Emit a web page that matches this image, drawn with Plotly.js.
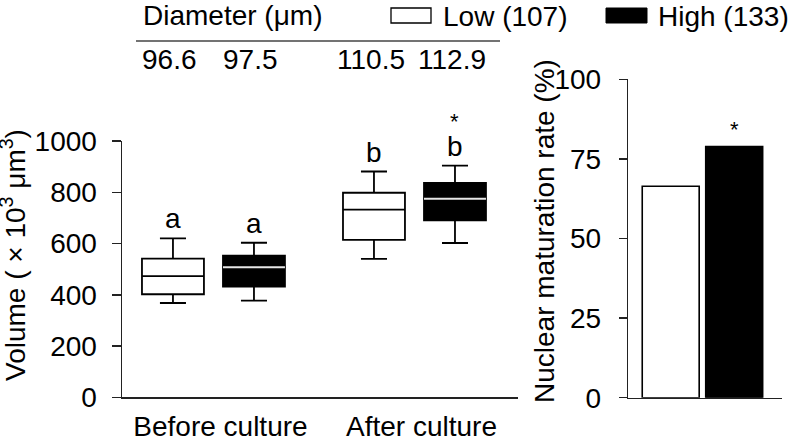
<!DOCTYPE html>
<html><head><meta charset="utf-8">
<script src="https://cdn.plot.ly/plotly-3.0.1.min.js"></script>
<style>html,body{margin:0;padding:0;background:#fff}#chart{width:793px;height:442px}</style>
</head><body><div id="chart"></div>
<script>
// ---- data ----
const stages = ['Before culture', 'After culture'];
const groupNames = ['Low', 'High'];
const groupCounts = [107, 133];
const diameterLow = [96.6, 110.5];
const diameterHigh = [97.5, 112.9];
const lowQ1 = [402, 614];
const lowMedian = [473, 732];
const lowQ3 = [541, 798];
const lowMin = [368, 540];
const lowMax = [620, 881];
const highQ1 = [432, 690];
const highMedian = [507, 775];
const highQ3 = [553, 837];
const highMin = [377, 602];
const highMax = [603, 904];
const letterLow = ['a', 'b'];
const letterHigh = ['a', 'b'];
const starHigh = ['', '*'];
const maturation = [66.4, 78.9];
const maturationStar = ['', '*'];

// ---- styles ----
const FONT = 'Liberation Sans, Arial, sans-serif';
const FS = 28;
const W = 793, H = 442;
const boxgap = 0.194, boxgroupgap = 0.235;
const off = (1 - boxgap) / 4;
const px = v => v / W, py = v => 1 - v / H;

const traces = [
  {type: 'box', name: groupNames[0], x: stages, q1: lowQ1, median: lowMedian, q3: lowQ3,
   lowerfence: lowMin, upperfence: lowMax, offsetgroup: 'low', boxpoints: false,
   fillcolor: 'white', line: {color: 'black', width: 1.8}, whiskerwidth: 0.42,
   showlegend: false, xaxis: 'x', yaxis: 'y', hoverinfo: 'skip'},
  {type: 'box', name: groupNames[1], x: stages, q1: highQ1, median: highMedian, q3: highQ3,
   lowerfence: highMin, upperfence: highMax, offsetgroup: 'high', boxpoints: false,
   fillcolor: 'black', line: {color: 'black', width: 1.8}, whiskerwidth: 0.42,
   showlegend: false, xaxis: 'x', yaxis: 'y', hoverinfo: 'skip'},
  // white median line for the black boxes
  {type: 'box', name: groupNames[1] + ' median', x: stages, q1: highMedian, median: highMedian, q3: highMedian,
   lowerfence: highMedian, upperfence: highMedian, offsetgroup: 'high', boxpoints: false,
   fillcolor: 'rgba(0,0,0,0)', line: {color: '#e6e6e6', width: 2}, whiskerwidth: 0.42,
   showlegend: false, xaxis: 'x', yaxis: 'y', hoverinfo: 'skip'},
  {type: 'bar', x: groupNames, y: maturation, xaxis: 'x2', yaxis: 'y2',
   marker: {color: ['white', 'black'], line: {color: 'black', width: 1.6}},
   showlegend: false, hoverinfo: 'skip'}
];

const annotations = [];
stages.forEach((s, i) => {
  annotations.push({xref: 'x', yref: 'y', x: i - off, y: lowMax[i], text: letterLow[i], showarrow: false,
    yanchor: 'bottom', yshift: 2, font: {family: FONT, size: FS, color: 'black'}});
  annotations.push({xref: 'x', yref: 'y', x: i + off, y: highMax[i], text: letterHigh[i], showarrow: false,
    yanchor: 'bottom', yshift: 2, font: {family: FONT, size: FS, color: 'black'}});
  if (starHigh[i]) annotations.push({xref: 'x', yref: 'y', x: i + off, y: highMax[i], text: starHigh[i], showarrow: false,
    yanchor: 'bottom', yshift: 30, font: {family: FONT, size: 22, color: 'black'}});
  annotations.push({xref: 'x', yref: 'paper', x: i - off, y: py(60), text: diameterLow[i].toFixed(1), showarrow: false,
    yanchor: 'middle', xshift: -3, font: {family: FONT, size: FS, color: 'black'}});
  annotations.push({xref: 'x', yref: 'paper', x: i + off, y: py(60), text: diameterHigh[i].toFixed(1), showarrow: false,
    yanchor: 'middle', xshift: -3, font: {family: FONT, size: FS, color: 'black'}});
});
groupNames.forEach((g, i) => {
  if (maturationStar[i]) annotations.push({xref: 'x2', yref: 'y2', x: g, y: maturation[i], text: maturationStar[i],
    showarrow: false, yanchor: 'bottom', yshift: 2, font: {family: FONT, size: 22, color: 'black'}});
});
// header + legend
annotations.push({xref: 'paper', yref: 'paper', x: px(141), y: py(16), xanchor: 'left', yanchor: 'middle',
  text: 'Diameter (μm)', showarrow: false, font: {family: FONT, size: FS, color: 'black'}});
annotations.push({xref: 'paper', yref: 'paper', x: px(441), y: py(17), xanchor: 'left', yanchor: 'middle',
  text: groupNames[0] + ' (' + groupCounts[0] + ')', showarrow: false, font: {family: FONT, size: FS, color: 'black'}});
annotations.push({xref: 'paper', yref: 'paper', x: px(656), y: py(17), xanchor: 'left', yanchor: 'middle',
  text: groupNames[1] + ' (' + groupCounts[1] + ')', showarrow: false, font: {family: FONT, size: FS, color: 'black'}});
// axis titles
annotations.push({xref: 'paper', yref: 'paper', x: px(13), y: py(255), xanchor: 'center', yanchor: 'middle', textangle: -90,
  text: 'Volume ( × 10<sup>3</sup> μm<sup>3</sup>)', showarrow: false, font: {family: FONT, size: FS, color: 'black'}});
annotations.push({xref: 'paper', yref: 'paper', x: px(544), y: py(231), xanchor: 'center', yanchor: 'middle', textangle: -90,
  text: 'Nuclear maturation rate (%)', showarrow: false, font: {family: FONT, size: FS, color: 'black'}});

const shapes = [
  {type: 'line', xref: 'paper', yref: 'paper', x0: px(136), x1: px(500), y0: py(41), y1: py(41),
   line: {color: '#444', width: 1.5}},
  {type: 'rect', xref: 'paper', yref: 'paper', x0: px(391), x1: px(431), y0: py(23), y1: py(8),
   line: {color: 'black', width: 1.3}, fillcolor: 'white'},
  {type: 'rect', xref: 'paper', yref: 'paper', x0: px(606), x1: px(647), y0: py(23), y1: py(8),
   line: {color: 'black', width: 1}, fillcolor: 'black'}
];

const axisFont = {family: FONT, size: FS, color: 'black'};
const layout = {
  width: W, height: H, margin: {l: 0, r: 0, t: 0, b: 0},
  paper_bgcolor: 'white', plot_bgcolor: 'white',
  boxmode: 'group', boxgap: boxgap, boxgroupgap: boxgroupgap, bargap: 0.103,
  font: {family: FONT, size: FS, color: 'black'},
  xaxis: {domain: [px(122), px(518)], type: 'category', range: [-0.455, 1.515],
    showline: true, linecolor: '#222', linewidth: 1.5, ticks: '', showgrid: false, zeroline: false,
    tickfont: axisFont, ticklabelshift: 7, ticklabelstandoff: 4, anchor: 'y', fixedrange: true},
  yaxis: {domain: [py(397.3), py(141)], range: [0, 1000], tickvals: [0, 200, 400, 600, 800, 1000],
    showline: true, linecolor: '#222', linewidth: 1.5, ticks: 'outside', ticklen: 9, tickwidth: 1.5, tickcolor: '#222',
    showgrid: false, zeroline: false, tickfont: axisFont, ticklabelstandoff: 9, anchor: 'x', fixedrange: true},
  xaxis2: {domain: [px(628.3), px(782)], type: 'category', range: [-0.668, 1.753],
    showline: true, linecolor: '#222', linewidth: 1.5, ticks: '', showticklabels: false, showgrid: false,
    zeroline: false, anchor: 'y2', fixedrange: true},
  yaxis2: {domain: [py(397.7), py(79.3)], range: [0, 100], tickvals: [0, 25, 50, 75, 100],
    showline: true, linecolor: '#222', linewidth: 1.5, ticks: 'outside', ticklen: 8, tickwidth: 1.5, tickcolor: '#222',
    showgrid: false, zeroline: false, tickfont: axisFont, ticklabelstandoff: 12, anchor: 'x2', fixedrange: true},
  annotations: annotations, shapes: shapes
};

Plotly.newPlot('chart', traces, layout, {displayModeBar: false, staticPlot: true});
</script></body></html>
